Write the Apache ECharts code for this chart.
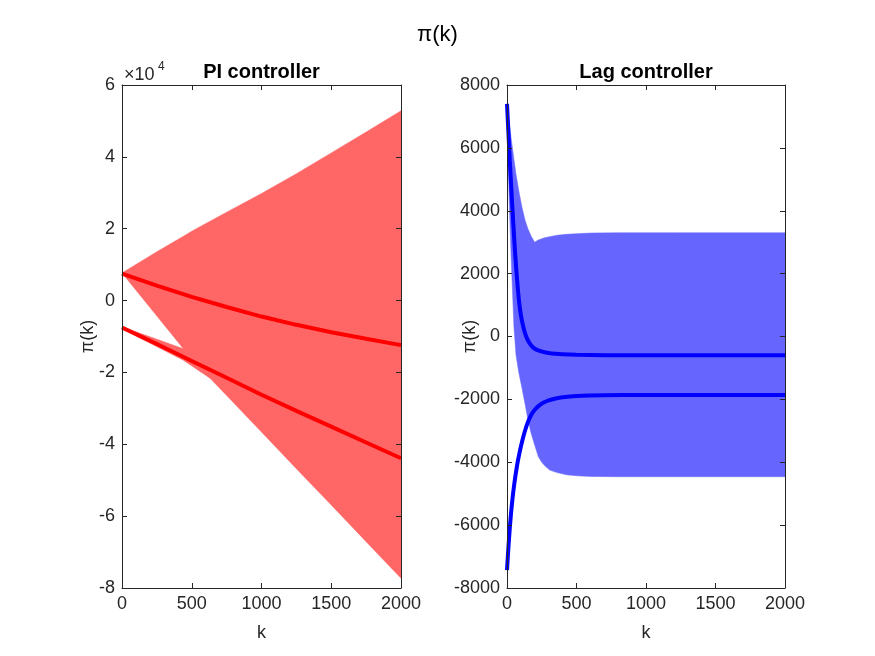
<!DOCTYPE html>
<html>
<head>
<meta charset="utf-8">
<script src="https://cdn.jsdelivr.net/npm/echarts@6/dist/echarts.min.js"></script>
<style>html,body{margin:0;padding:0;background:#fff;}#c{width:875px;height:656px;}</style>
</head>
<body>
<div id="c"></div>
<script>
// ---------- data ----------
const kTicks = [0, 500, 1000, 1500, 2000];
const piYTicks = [-8, -6, -4, -2, 0, 2, 4, 6];            // ×10^4
const lagYTicks = [-8000, -6000, -4000, -2000, 0, 2000, 4000, 6000, 8000];

// PI controller: oscillation envelope (main band)
const piEnvK      = [0, 250, 440, 500, 631, 750, 1000, 1250, 1500, 1750, 2000];
const piEnvTop    = [7700, 13600, 17900, 19300, 22100, 24600, 29800, 35300, 41100, 46900, 52800];
const piEnvBottom = [7700, -4300, -13400, -16000, -21600, -26400, -36600, -46800, -56900, -67100, -77300];
// PI controller: thin band around the lower trajectory (early k)
const piStripK      = [0, 440, 631];
const piStripTop    = [-7300, -13400, -18000];
const piStripBottom = [-7900, -16600, -21600];
// PI controller: thick trajectories
const piLineK     = [0, 250, 500, 750, 1000, 1250, 1500, 1750, 2000];
const piUpperLine = [7500, 4150, 1050, -1800, -4450, -6750, -8800, -10650, -12400];
const piLowerLine = [-7500, -12100, -16800, -21500, -26200, -30700, -35100, -39500, -43900];

// Lag controller: oscillation envelope
const lagEnvK      = [0, 15, 30, 50, 65, 85, 108, 130, 151, 175, 199, 225, 250, 270, 307, 360, 427, 500, 600, 800, 1200, 2000];
const lagEnvTop    = [7400, 6850, 6300, 5630, 5150, 4630, 4100, 3700, 3420, 3180, 3000, 3070, 3110, 3140, 3175, 3220, 3250, 3270, 3290, 3300, 3300, 3300];
const lagEnvBottom = [7400, 4400, 2500, 300, -600, -1150, -1650, -2150, -2660, -3100, -3450, -3820, -4000, -4100, -4250, -4330, -4400, -4430, -4450, -4460, -4460, -4460];
// Lag controller: thick trajectories
const lagLineK     = [0, 10, 20, 30, 40, 50, 60, 70, 80, 90, 100, 115, 130, 150, 175, 200, 230, 260, 300, 350, 400, 500, 700, 1000, 2000];
const lagUpperLine = [7400, 6500, 5600, 4780, 4000, 3250, 2550, 1950, 1420, 1000, 680, 350, 100, -120, -290, -390, -450, -490, -525, -550, -565, -580, -595, -600, -600];
const lagLowerLine = [-7430, -6720, -6100, -5580, -5140, -4770, -4450, -4170, -3920, -3700, -3500, -3230, -2990, -2730, -2490, -2330, -2200, -2110, -2030, -1970, -1930, -1890, -1865, -1860, -1860];

// ---------- helpers ----------
const FONT = "'Liberation Sans', Arial, Helvetica, sans-serif";
const AX = '#262626';
const pairs = (ks, vs) => ks.map((k, i) => [k, vs[i]]);
const triples = (ks, top, bot) => ks.map((k, i) => [k, top[i], bot[i]]);

function xAx(grid, pos, withLabels) {
  return {
    gridIndex: grid, type: 'value', position: pos,
    min: kTicks[0], max: kTicks[kTicks.length - 1], interval: kTicks[1] - kTicks[0],
    z: 5,
    axisLine: { onZero: false, lineStyle: { color: AX, width: 1 } },
    axisTick: { inside: true, length: 5, lineStyle: { color: AX } },
    axisLabel: { show: withLabels, color: AX, fontSize: 18, fontFamily: FONT, margin: 7, formatter: v => String(v) },
    splitLine: { show: false },
    name: withLabels ? 'k' : '', nameLocation: 'middle', nameGap: 36, nameMoveOverlap: false,
    nameTextStyle: { color: AX, fontSize: 18, fontFamily: FONT }
  };
}
function yAx(grid, pos, withLabels, ticks, scale, gap) {
  return {
    gridIndex: grid, type: 'value', position: pos,
    min: ticks[0] * scale, max: ticks[ticks.length - 1] * scale, interval: (ticks[1] - ticks[0]) * scale,
    z: 5,
    axisLine: { onZero: false, lineStyle: { color: AX, width: 1 } },
    axisTick: { inside: true, length: 5, lineStyle: { color: AX } },
    axisLabel: { show: withLabels, color: AX, fontSize: 18, fontFamily: FONT, margin: 7, formatter: v => String(Math.round(v / scale)) },
    splitLine: { show: false },
    name: withLabels ? 'π(k)' : '', nameLocation: 'middle', nameGap: gap, nameMoveOverlap: false,
    nameTextStyle: { color: AX, fontSize: 18, fontFamily: FONT }
  };
}
// filled band between an upper and a lower envelope, drawn as one polygon
function band(xi, ks, top, bot, color) {
  return {
    type: 'custom', xAxisIndex: xi, yAxisIndex: xi, silent: true, z: 2,
    data: triples(ks, top, bot),
    encode: { x: 0, y: [1, 2] },
    renderItem: function (params, api) {
      if (params.dataIndexInside !== 0) return null;
      const n = params.dataInsideLength;
      const up = [], dn = [];
      for (let j = 0; j < n; j++) {
        up.push(api.coord([api.value(0, j), api.value(1, j)]));
        dn.push(api.coord([api.value(0, j), api.value(2, j)]));
      }
      return { type: 'polygon', shape: { points: up.concat(dn.reverse()) },
        style: { fill: color, stroke: color, lineWidth: 0.5 } };
    }
  };
}
function thick(xi, ks, vs, color, smooth) {
  return { type: 'line', xAxisIndex: xi, yAxisIndex: xi, data: pairs(ks, vs), symbol: 'none',
    smooth: smooth, silent: true, lineStyle: { color: color, width: 4 }, z: 4 };
}

const chart = echarts.init(document.getElementById('c'), null, { renderer: 'canvas' });
chart.setOption({
  animation: false,
  backgroundColor: '#fff',
  title: [
    { text: 'π(k)', left: 437.5, top: 24, textAlign: 'center', padding: 0,
      textStyle: { fontSize: 22, fontWeight: 'normal', color: '#000', fontFamily: FONT } },
    { text: 'PI controller', left: 261.5, top: 62, textAlign: 'center', padding: 0,
      textStyle: { fontSize: 20, fontWeight: 'bold', color: '#000', fontFamily: FONT } },
    { text: 'Lag controller', left: 646, top: 62, textAlign: 'center', padding: 0,
      textStyle: { fontSize: 20, fontWeight: 'bold', color: '#000', fontFamily: FONT } },
    { text: '×10', left: 124, top: 66, padding: 0,
      textStyle: { fontSize: 18, fontWeight: 'normal', color: AX, fontFamily: FONT } },
    { text: '4', left: 158, top: 61, padding: 0,
      textStyle: { fontSize: 12, fontWeight: 'normal', color: AX, fontFamily: FONT } }
  ],
  grid: [
    { left: 122, top: 85, width: 279, height: 503, outerBoundsMode: 'none', containLabel: false },
    { left: 507, top: 85, width: 278, height: 503, outerBoundsMode: 'none', containLabel: false }
  ],
  xAxis: [xAx(0, 'bottom', true), xAx(0, 'top', false), xAx(1, 'bottom', true), xAx(1, 'top', false)],
  yAxis: [
    yAx(0, 'left', true, piYTicks, 10000, 25), yAx(0, 'right', false, piYTicks, 10000, 25),
    yAx(1, 'left', true, lagYTicks, 1, 28), yAx(1, 'right', false, lagYTicks, 1, 28)
  ],
  series: [
    band(0, piEnvK, piEnvTop, piEnvBottom, '#ff6666'),
    band(0, piStripK, piStripTop, piStripBottom, '#ff6666'),
    thick(0, piLineK, piUpperLine, '#ff0000', false),
    thick(0, piLineK, piLowerLine, '#ff0000', false),
    band(2, lagEnvK, lagEnvTop, lagEnvBottom, '#6666ff'),
    thick(2, lagLineK, lagUpperLine, '#0000ff', 0.3),
    thick(2, lagLineK, lagLowerLine, '#0000ff', 0.3)
  ]
});
</script>
</body>
</html>
